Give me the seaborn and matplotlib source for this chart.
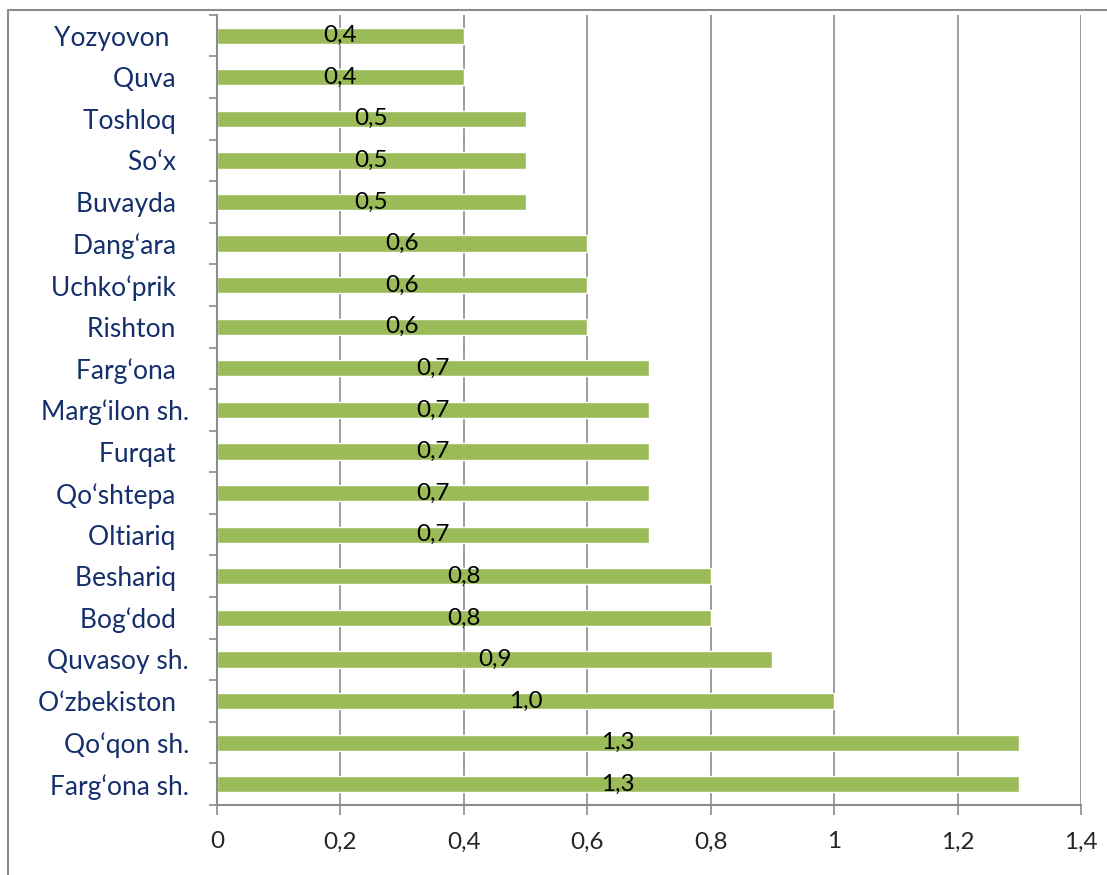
import matplotlib
matplotlib.use("Agg")
import matplotlib.pyplot as plt
import seaborn as sns
import pandas as pd
from matplotlib.lines import Line2D
from matplotlib.ticker import FuncFormatter, FixedLocator

# Data (top to bottom as shown)
districts = ["Yozyovon   ", "Quva  ", "Toshloq  ", "So‘x  ", "Buvayda  ", "Dang‘ara  ",
             "Uchko‘prik  ", "Rishton  ", "Farg‘ona  ", "Marg‘ilon sh.", "Furqat  ",
             "Qo‘shtepa  ", "Oltiariq  ", "Beshariq  ", "Bog‘dod  ", "Quvasoy sh.",
             "O‘zbekiston  ", "Qo‘qon sh.", "Farg‘ona sh."]
values = [0.4, 0.4, 0.5, 0.5, 0.5, 0.6, 0.6, 0.6, 0.7, 0.7, 0.7,
          0.7, 0.7, 0.8, 0.8, 0.9, 1.0, 1.3, 1.3]
x_ticks = [0, 0.2, 0.4, 0.6, 0.8, 1.0, 1.2, 1.4]

df = pd.DataFrame({"district": districts, "value": values})

sns.set_theme(style="white")
plt.rcParams["font.family"] = ["Lato", "DejaVu Sans"]

fig = plt.figure(figsize=(11.07, 8.75), dpi=100)
ax = fig.add_axes([0.196, 0.08, 0.7805, 0.903])

sns.barplot(data=df, x="value", y="district", order=districts, orient="h",
            color="#9BBB59", saturation=1, width=0.39, ax=ax)

labels = [f"{v:.1f}".replace(".", ",") for v in values]
ax.bar_label(ax.containers[0], labels=labels, label_type="center",
             fontsize=17.5, color="black")

ax.set_xlim(0, 1.4)
ax.set_ylim(len(districts) - 0.5, -0.5)
ax.set_xticks(x_ticks)
ax.xaxis.set_major_formatter(FuncFormatter(lambda v, p: f"{v:g}".replace(".", ",")))
ax.grid(axis="x", color="#8c8c8c", linewidth=1.2)
ax.set_axisbelow(True)

# category separators on the y axis
ax.yaxis.set_minor_locator(FixedLocator([i - 0.5 for i in range(len(districts) + 1)]))
ax.tick_params(axis="y", which="major", length=0, pad=20, labelsize=19,
               labelcolor="#142F6B")
ax.tick_params(axis="y", which="minor", left=True, length=6, width=1.2, color="#8c8c8c")
ax.tick_params(axis="x", which="major", bottom=True, length=7, width=1.2,
               color="#8c8c8c", labelsize=17.5, pad=12)

for s in ["top", "right"]:
    ax.spines[s].set_visible(False)
for s in ["left", "bottom"]:
    ax.spines[s].set_color("#8c8c8c")
    ax.spines[s].set_linewidth(1.5)

ax.set_xlabel("")
ax.set_ylabel("")

# outer chart frame (left and top edges visible)
fig.add_artist(Line2D([8 / 1107, 8 / 1107], [0, 1 - 10 / 875],
                      transform=fig.transFigure, color="#8c8c8c", linewidth=1.5))
fig.add_artist(Line2D([8 / 1107, 1], [1 - 10 / 875, 1 - 10 / 875],
                      transform=fig.transFigure, color="#8c8c8c", linewidth=1.5))

fig.savefig("out.png", dpi=100)
